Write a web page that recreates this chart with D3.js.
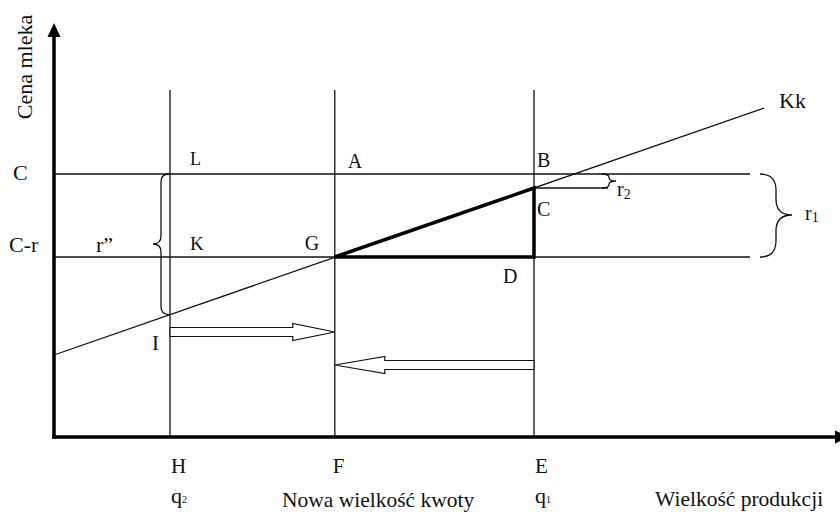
<!DOCTYPE html>
<html>
<head>
<meta charset="utf-8">
<script src="https://cdn.jsdelivr.net/npm/d3@7"></script>
<style>
  body { margin: 0; background: #fff; }
  svg text { font-family: "Liberation Serif", "Times New Roman", serif; fill: #111; }
</style>
</head>
<body>
<div id="chart"></div>
<script>
// quantities on the horizontal axis (H = q2, F = new quota, E = q1)
var quotaNames = ["H", "F", "E"];
var quotaSub = ["q", "", "q"];
var quotaIdx = ["2", "", "1"];
var quotaValues = [14.5, 35.1, 60];

// price levels: C and C-r
var priceNames = ["C", "C-r"];
var priceValues = [65.75, 45];

// cost line Kk (two end points)
var kkX = [0, 88.75];
var kkY = [20.5, 82.25];

// triangle G - C - D
var triX = [35.1, 60, 60];
var triY = [45, 62.25, 45];

// I point (Kk crossing H)
var pointI = [14.5, 30.6];

// hollow arrows: from, to, level
var arrowFrom = [14.5, 60];
var arrowTo = [35.1, 35.1];
var arrowLevel = [26.25, 18];

var width = 840, height = 512;

var x = d3.scaleLinear().domain([0, 100]).range([54, 854]);
var y = d3.scaleLinear().domain([0, 100]).range([437, 37]);

var svg = d3.select("#chart").append("svg")
  .attr("width", width)
  .attr("height", height);

var thin = 1.3;

// vertical quota lines
svg.append("g")
  .selectAll("line")
  .data(quotaValues)
  .join("line")
  .attr("x1", d => x(d)).attr("x2", d => x(d))
  .attr("y1", y(86.75)).attr("y2", y(0))
  .attr("stroke", "#111").attr("stroke-width", thin);

// horizontal price lines
svg.append("g")
  .selectAll("line")
  .data(priceValues)
  .join("line")
  .attr("x1", x(0)).attr("x2", x(87))
  .attr("y1", d => y(d)).attr("y2", d => y(d))
  .attr("stroke", "#111").attr("stroke-width", thin);

// short line from C point to r2 brace
svg.append("line")
  .attr("x1", x(triX[1])).attr("x2", x(69.25))
  .attr("y1", y(triY[1])).attr("y2", y(triY[1]))
  .attr("stroke", "#111").attr("stroke-width", thin);

// Kk line
svg.append("line")
  .attr("x1", x(kkX[0])).attr("y1", y(kkY[0]))
  .attr("x2", x(kkX[1])).attr("y2", y(kkY[1]))
  .attr("stroke", "#111").attr("stroke-width", thin);

// thick triangle
var tri = triX.map((v, i) => [x(v), y(triY[i])]);
svg.append("path")
  .attr("d", d3.line()(tri) + "Z")
  .attr("fill", "none")
  .attr("stroke", "#000")
  .attr("stroke-width", 3.5)
  .attr("stroke-linejoin", "miter");

// hollow block arrows
function blockArrow(x0, x1, yc, headLen) {
  var s = 4.5, h = 8.5;
  var d = x1 > x0 ? 1 : -1;
  var hb = x1 - d * headLen;
  return "M" + x0 + "," + (yc - s) + "L" + hb + "," + (yc - s) + "L" + hb + "," + (yc - h) +
    "L" + x1 + "," + yc + "L" + hb + "," + (yc + h) + "L" + hb + "," + (yc + s) +
    "L" + x0 + "," + (yc + s) + "Z";
}
var headLens = [42, 50];
svg.append("g")
  .selectAll("path")
  .data(arrowFrom)
  .join("path")
  .attr("d", (d, i) => blockArrow(x(d), x(arrowTo[i]), y(arrowLevel[i]), headLens[i]))
  .attr("fill", "#fff")
  .attr("stroke", "#111")
  .attr("stroke-width", 1.2);

// curly braces
function brace(x0, y0, y1, w, ymid) {
  var xm = x0 + w / 2;
  var r = Math.min(Math.abs(w) / 2, (y1 - y0) / 4);
  if (ymid === undefined) ymid = (y0 + y1) / 2;
  return "M" + x0 + "," + y0 +
    "Q" + xm + "," + y0 + " " + xm + "," + (y0 + r) +
    "L" + xm + "," + (ymid - r) +
    "Q" + xm + "," + ymid + " " + (x0 + w) + "," + ymid +
    "Q" + xm + "," + ymid + " " + xm + "," + (ymid + r) +
    "L" + xm + "," + (y1 - r) +
    "Q" + xm + "," + y1 + " " + x0 + "," + y1;
}
var braces = svg.append("g")
  .attr("fill", "none").attr("stroke", "#111").attr("stroke-width", 1.3);
braces.append("path")  // left big brace (C down to I)
  .attr("d", brace(x(pointI[0]) - 1, y(priceValues[0]), y(pointI[1]), -16, y(48.25)));
braces.append("path")  // r2
  .attr("d", brace(x(69.25) - 6, y(priceValues[0]), y(triY[1]), 14));
braces.append("path")  // r1
  .attr("d", brace(x(88.25), y(priceValues[0]), y(priceValues[1]), 32, y(55.5)));

// axes
svg.append("line")
  .attr("x1", x(0)).attr("x2", x(0))
  .attr("y1", y(0) + 1.5).attr("y2", 34)
  .attr("stroke", "#000").attr("stroke-width", 3.5);
svg.append("line")
  .attr("x1", x(0) - 1.7).attr("x2", 838)
  .attr("y1", y(0)).attr("y2", y(0))
  .attr("stroke", "#000").attr("stroke-width", 3.5);
svg.append("path")
  .attr("d", "M" + (x(0) - 6.5) + ",37L" + x(0) + ",23L" + (x(0) + 6.5) + ",37Z")
  .attr("fill", "#000");
svg.append("path")
  .attr("d", "M835," + (y(0) - 6.5) + "L850," + y(0) + "L835," + (y(0) + 6.5) + "Z")
  .attr("fill", "#000");

// texts
var txt = svg.append("g");

txt.append("text")
  .attr("transform", "translate(32,67) rotate(-90)")
  .attr("text-anchor", "middle")
  .attr("font-size", 22)
  .text("Cena mleka");

txt.selectAll(".price")
  .data(priceNames)
  .join("text")
  .attr("class", "price")
  .attr("x", (d, i) => i === 0 ? 13 : 9)
  .attr("y", (d, i) => i === 0 ? 180 : y(priceValues[i]) - 5)
  .attr("font-size", 22)
  .text(d => d);

txt.append("text").attr("x", 96).attr("y", y(priceValues[1]) - 5)
  .attr("font-size", 22).text("r\u201d");

// quota letters
txt.selectAll(".qn")
  .data(quotaNames)
  .join("text")
  .attr("class", "qn")
  .attr("x", (d, i) => x(quotaValues[i]) + (i === 1 ? -2 : 1))
  .attr("y", 473)
  .attr("font-size", 21)
  .text(d => d);

quotaSub.forEach(function (q, i) {
  if (!q) return;
  var t = txt.append("text")
    .attr("x", x(quotaValues[i]) + 1)
    .attr("y", 503)
    .attr("font-size", 22);
  t.append("tspan").text(q);
  t.append("tspan").attr("font-size", 10).attr("dy", 0).text(quotaIdx[i]);
});

txt.append("text").attr("x", 282).attr("y", 507).attr("font-size", 21.5)
  .text("Nowa wielkość kwoty");
txt.append("text").attr("x", 655).attr("y", 506).attr("font-size", 21.5)
  .text("Wielkość produkcji");

// point labels
var ptNames = ["L", "K", "A", "B", "G", "C", "D", "I", "Kk"];
var ptAnchorX = [quotaValues[0], quotaValues[0], quotaValues[1], quotaValues[2], quotaValues[1], triX[1], triX[2], pointI[0], kkX[1]];
var ptAnchorY = [priceValues[0], priceValues[1], priceValues[0], priceValues[0], priceValues[1], triY[1], triY[2], pointI[1], kkY[1]];
var ptDx = [20, 20, 13, 3, -30, 3, -31, -18, 15];
var ptDy = [-9, -7, -6, -7, -7, 28, 26, 35, 0];
var ptSize = [18, 19, 20, 20, 20, 20, 20, 21, 22];

txt.selectAll(".pt")
  .data(ptNames)
  .join("text")
  .attr("class", "pt")
  .attr("x", (d, i) => x(ptAnchorX[i]) + ptDx[i])
  .attr("y", (d, i) => y(ptAnchorY[i]) + ptDy[i])
  .attr("font-size", (d, i) => ptSize[i])
  .text(d => d);

// r2 and r1
var r2 = txt.append("text").attr("x", 617).attr("y", 196).attr("font-size", 20);
r2.append("tspan").text("r");
r2.append("tspan").attr("font-size", 14).attr("dy", 3).text("2");
var r1 = txt.append("text").attr("x", 805).attr("y", 220).attr("font-size", 20);
r1.append("tspan").text("r");
r1.append("tspan").attr("font-size", 14).attr("dy", 2).text("1");
</script>
</body>
</html>
